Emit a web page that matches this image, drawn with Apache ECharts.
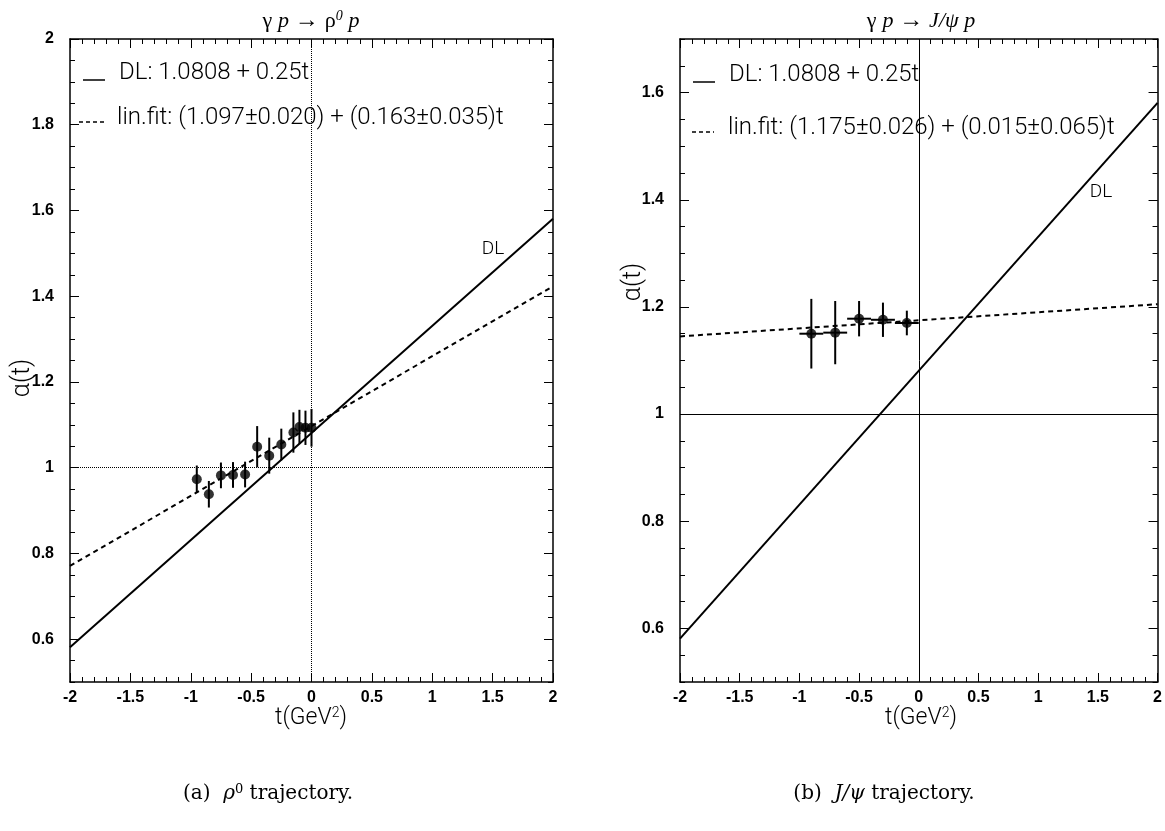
<!DOCTYPE html>
<html><head><meta charset="utf-8">
<script src="https://cdn.jsdelivr.net/npm/echarts@6/dist/echarts.min.js"></script>
<style>html,body{margin:0;padding:0;background:#fff}#c{width:1165px;height:831px}</style>
</head><body><div id="c"></div>
<script>
// ---------- data: left panel (gamma p -> rho0 p) ----------
const rhoT     = [-0.95, -0.85, -0.75, -0.65, -0.55, -0.45, -0.35, -0.25, -0.15, -0.10, -0.05, 0.00];
const rhoAlpha = [0.973, 0.938, 0.982, 0.983, 0.984, 1.049, 1.028, 1.054, 1.082, 1.095, 1.093, 1.093];
const rhoErr   = [0.032, 0.031, 0.030, 0.030, 0.030, 0.048, 0.042, 0.037, 0.047, 0.040, 0.040, 0.044];
const rhoDL    = [[-2, 0.5808], [2, 1.5808]];
const rhoFit   = [[-2, 0.771], [2, 1.423]];
// ---------- data: right panel (gamma p -> J/psi p) ----------
const psiT     = [-0.9, -0.7, -0.5, -0.3, -0.1];
const psiAlpha = [1.150, 1.152, 1.178, 1.176, 1.170];
const psiErr   = [0.065, 0.059, 0.033, 0.032, 0.023];
const psiTErr  = [0.1, 0.1, 0.1, 0.1, 0.1];
const psiDL    = [[-2, 0.5808], [2, 1.5808]];
const psiFit   = [[-2, 1.145], [2, 1.205]];
// ---------- ticks ----------
const leftYMajor  = [0.6, 0.8, 1.0, 1.2, 1.4, 1.6, 1.8, 2.0];
const rightYMajor = [0.6, 0.8, 1.0, 1.2, 1.4, 1.6];
const leftYRange  = [0.5, 2.0];
const rightYRange = [0.5, 1.7];
const xRange = [-2, 2];

const SANS = "'Liberation Sans', Arial, sans-serif";
const LIGHT = "Roboto, 'Liberation Sans', sans-serif";
const SERIF = "'Liberation Serif', 'DejaVu Serif', serif";
const black = '#000';

function xAxesFor(g) {
  const base = {
    gridIndex: g, type: 'value', min: xRange[0], max: xRange[1], interval: 0.5,
    splitLine: {show: false},
    axisLine: {onZero: false, lineStyle: {color: black, width: 1.5}},
    axisTick: {inside: true, length: 9, lineStyle: {color: black, width: 1}},
    minorTick: {show: true, splitNumber: 5, length: 5, lineStyle: {color: black, width: 1}},
    minorSplitLine: {show: false}
  };
  return [
    Object.assign({}, base, {position: 'bottom',
      axisLabel: {show: true, color: black, fontFamily: SANS, fontWeight: 'bold', fontSize: 16, margin: 8,
        showMinLabel: true, showMaxLabel: true}}),
    Object.assign({}, base, {position: 'top', axisLabel: {show: false}})
  ];
}
function yAxesFor(g, range, majors) {
  const minorBase = {
    gridIndex: g, type: 'value', min: range[0], max: range[1], interval: 0.05,
    splitLine: {show: false},
    axisLine: {onZero: false, lineStyle: {color: black, width: 1.5}},
    axisTick: {inside: true, length: 5, lineStyle: {color: black, width: 1}}
  };
  const majorBase = {
    gridIndex: g, type: 'value', min: range[0], max: range[1], interval: 0.05,
    splitLine: {show: false},
    axisLine: {show: false, onZero: false},
    axisTick: {inside: true, length: 9, customValues: majors, lineStyle: {color: black, width: 1}},
    axisLabel: {show: false}
  };
  const labelFmt = function (v) {
    const k = Math.round(v * 20);
    return (k % 4 === 0) ? String(Math.round(v * 10) / 10) : '';
  };
  return [
    Object.assign({}, minorBase, {position: 'left',
      axisLabel: {show: true, color: black, fontFamily: SANS, fontWeight: 'bold', fontSize: 16, margin: 16,
        formatter: labelFmt, showMinLabel: true, showMaxLabel: true}}),
    Object.assign({}, minorBase, {position: 'right', axisLabel: {show: false}}),
    Object.assign({}, majorBase, {position: 'left'}),
    Object.assign({}, majorBase, {position: 'right'})
  ];
}

function errBarRender(params, api) {
  const t = api.value(0), a = api.value(1), ea = api.value(2), et = api.value(3);
  const p1 = api.coord([t, a - ea]), p2 = api.coord([t, a + ea]);
  const children = [{type: 'line', shape: {x1: p1[0], y1: p1[1], x2: p2[0], y2: p2[1]},
    style: {stroke: black, lineWidth: 2}}];
  if (et > 0) {
    const q1 = api.coord([t - et, a]), q2 = api.coord([t + et, a]);
    children.push({type: 'line', shape: {x1: q1[0], y1: q1[1], x2: q2[0], y2: q2[1]},
      style: {stroke: black, lineWidth: 2}});
  }
  return {type: 'group', children: children};
}

const rhoPts = rhoT.map((t, i) => [t, rhoAlpha[i]]);
const rhoBars = rhoT.map((t, i) => [t, rhoAlpha[i], rhoErr[i], 0]);
const psiPts = psiT.map((t, i) => [t, psiAlpha[i]]);
const psiBars = psiT.map((t, i) => [t, psiAlpha[i], psiErr[i], psiTErr[i]]);

function refLines(type) {
  return {silent: true, symbol: 'none', label: {show: false}, animation: false,
    lineStyle: {type: type, color: black, width: 1},
    data: [{xAxis: 0}, {yAxis: 1}]};
}

const xa = xAxesFor(0).concat(xAxesFor(1));
const ya = yAxesFor(0, leftYRange, leftYMajor).concat(yAxesFor(1, rightYRange, rightYMajor));

const series = [
  {type: 'line', xAxisIndex: 0, yAxisIndex: 0, data: rhoDL, showSymbol: false, symbol: 'none',
    lineStyle: {color: black, width: 2}, markLine: refLines('dotted'), z: 3},
  {type: 'line', xAxisIndex: 0, yAxisIndex: 0, data: rhoFit, showSymbol: false, symbol: 'none',
    lineStyle: {color: black, width: 2, type: [5, 4]}, z: 3},
  {type: 'custom', xAxisIndex: 0, yAxisIndex: 0, data: rhoBars, renderItem: errBarRender, z: 4},
  {type: 'scatter', xAxisIndex: 0, yAxisIndex: 0, data: rhoPts, symbol: 'circle', symbolSize: 10,
    itemStyle: {color: black}, z: 5},

  {type: 'line', xAxisIndex: 2, yAxisIndex: 4, data: psiDL, showSymbol: false, symbol: 'none',
    lineStyle: {color: black, width: 2}, markLine: refLines('solid'), z: 3},
  {type: 'line', xAxisIndex: 2, yAxisIndex: 4, data: psiFit, showSymbol: false, symbol: 'none',
    lineStyle: {color: black, width: 2, type: [5, 4]}, z: 3},
  {type: 'custom', xAxisIndex: 2, yAxisIndex: 4, data: psiBars, renderItem: errBarRender, z: 4},
  {type: 'scatter', xAxisIndex: 2, yAxisIndex: 4, data: psiPts, symbol: 'circle', symbolSize: 10,
    itemStyle: {color: black}, z: 5}
];

function txt(x, y, text, opts) {
  return {type: 'text', x: x, y: y, z: 100, rotation: (opts && opts.rotation) || 0,
    style: Object.assign({text: text, fill: black, fontFamily: LIGHT, fontWeight: 300, fontSize: 24,
      align: 'left', verticalAlign: 'middle'}, opts && opts.style)};
}
function seg(x1, y1, x2, y2, dash) {
  return {type: 'line', z: 100, shape: {x1: x1, y1: y1, x2: x2, y2: y2},
    style: {stroke: black, lineWidth: 1.5, lineDash: dash || null}};
}
const titleRich = {
  g: {fontFamily: SERIF, fontSize: 22, fontWeight: 'normal'},
  i: {fontFamily: SERIF, fontSize: 22, fontStyle: 'italic', fontWeight: 'normal'},
  sup: {fontFamily: SERIF, fontSize: 14, fontStyle: 'italic', fontWeight: 'normal', padding: [0, 0, 9, 0]}
};
const CAPF = "'DejaVu Serif', serif";
const capRich = {
  r: {fontFamily: CAPF, fontSize: 20, fontWeight: 'normal'},
  i: {fontFamily: CAPF, fontSize: 20, fontStyle: 'italic', fontWeight: 'normal'},
  sup: {fontFamily: CAPF, fontSize: 13, fontWeight: 'normal', padding: [0, 0, 9, 0]}
};
const nameRich = {
  n: {fontFamily: LIGHT, fontSize: 23, fontWeight: 300},
  sup: {fontFamily: LIGHT, fontSize: 14, fontWeight: 300, padding: [0, 0, 10, 0]}
};

const graphic = [
  // titles
  txt(311, 21, '{g|γ} {i|p} → {g|ρ}{sup|0} {i|p}', {style: {align: 'center', rich: titleRich}}),
  txt(921, 21, '{g|γ} {i|p} → {i|J/ψ p}', {style: {align: 'center', rich: titleRich}}),
  // legends left
  seg(83, 80, 105, 80),
  txt(119, 73, 'DL: 1.0808 + 0.25t'),
  seg(79, 122, 107, 122, [4, 3]),
  txt(117, 118, 'lin.fit: (1.097±0.020) + (0.163±0.035)t'),
  // legends right
  seg(693, 82, 715, 82),
  txt(729, 75, 'DL: 1.0808 + 0.25t'),
  seg(692, 132, 714, 132, [4, 3]),
  txt(728, 128, 'lin.fit: (1.175±0.026) + (0.015±0.065)t'),
  // DL labels
  txt(493, 249, 'DL', {style: {align: 'center', fontSize: 19}}),
  txt(1101, 192, 'DL', {style: {align: 'center', fontSize: 19}}),
  // axis names
  txt(23, 378, 'α(t)', {rotation: Math.PI / 2, style: {align: 'center', fontSize: 25}}),
  txt(634, 282, 'α(t)', {rotation: Math.PI / 2, style: {align: 'center', fontSize: 25}}),
  txt(311, 718, '{n|t(GeV}{sup|2}{n|)}', {style: {align: 'center', rich: nameRich}}),
  txt(921, 718, '{n|t(GeV}{sup|2}{n|)}', {style: {align: 'center', rich: nameRich}}),
  // captions
  txt(268, 794, '{r|(a)  }{i|ρ}{sup|0}{r| trajectory.}', {style: {align: 'center', rich: capRich}}),
  txt(884, 794, '{r|(b)  }{i|J/ψ}{r| trajectory.}', {style: {align: 'center', rich: capRich}})
];

const chart = echarts.init(document.getElementById('c'), null, {renderer: 'canvas'});
chart.setOption({
  animation: false,
  backgroundColor: '#fff',
  grid: [
    {left: 70, top: 39, width: 483, height: 643, containLabel: false},
    {left: 680, top: 39, width: 482, height: 643, containLabel: false}
  ],
  xAxis: xa,
  yAxis: ya,
  series: series,
  graphic: graphic
});
</script></body></html>
